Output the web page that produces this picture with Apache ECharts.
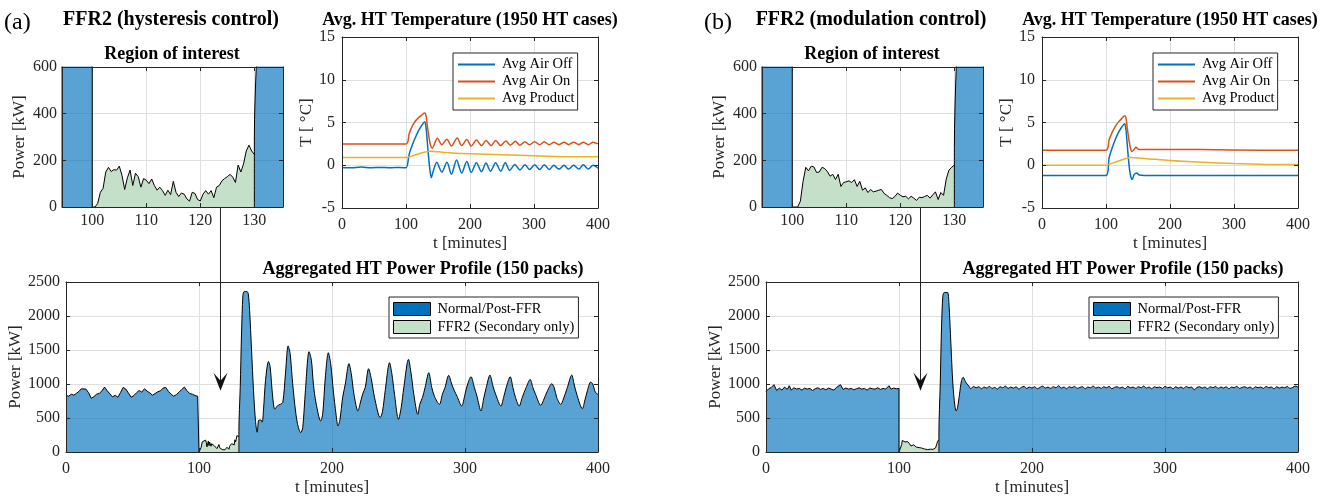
<!DOCTYPE html>
<html>
<head>
<meta charset="utf-8">
<script src="https://cdn.jsdelivr.net/npm/echarts@6/dist/echarts.min.js"></script>
<style>
  html, body { margin: 0; padding: 0; background: #fff; }
  #chart { width: 1326px; height: 499px; }
</style>
</head>
<body>
<div id="chart"></div>
<script>
// ---- data ----
// (a) hysteresis control
const normalA1 = [[0,833],[2,820],[4,850],[6,835],[8,865],[10,895],[11.5,930],[13,955],[15,925],[17,870],[19,790],[21,815],[23,850],[25,860],[27,900],[29,955],[31,900],[33,855],[35,810],[37,835],[39,805],[41,875],[43,950],[45,925],[47,865],[49,805],[51,830],[53,870],[55,905],[57,880],[59,930],[61,895],[63,870],[65,835],[67,860],[69,885],[71,900],[73,940],[75,950],[77,890],[79,850],[81,820],[83,845],[85,880],[87,920],[89,955],[91,900],[93,860],[95,850],[97,830],[99,820],[100,830],[100,0]];
const normalA2 = [[130,0],[130,300],[131,950],[132,1750],[133,2300],[134,2360],[136,2360],[137,2330],[138,2100],[139.5,1500],[141,900],[142.5,450],[143.75,290],[145,470],[146.5,470],[147.5,440],[148.5,620],[150,1050],[152.25,1330],[153.5,1250],[155,900],[157,630],[159,680],[161,700],[163,730],[165,1150],[167,1560],[168.5,1450],[170,1100],[172,700],[174,420],[176.5,285],[178,360],[180,900],[182.75,1475],[184.5,1350],[186,1000],[188,720],[191.5,456],[193,560],[195,1100],[197.25,1460],[199,1300],[201,900],[203,560],[204.5,382],[206,480],[208,800],[210,1000],[212.75,1300],[214.5,1150],[216.5,850],[219.5,603],[221,700],[223,850],[225,950],[227.5,1225],[229.5,1080],[232,800],[236.25,505],[238,600],[240,900],[243.25,1313],[245,1150],[247,850],[250,480],[252,650],[254,950],[257.5,1362],[259.5,1150],[261.5,850],[264.5,554],[266,700],[268,800],[270,950],[272.75,1166],[275,950],[277,820],[280.75,700],[283,850],[285,950],[287.75,1127],[290,1000],[292,900],[294,820],[297.5,676],[300,850],[302,1000],[304.5,1107],[307,950],[309,820],[312,603],[314,780],[316,950],[318.75,1132],[321,970],[323,850],[327,676],[329,800],[331,950],[334,1107],[336,950],[338,800],[340.75,676],[343,800],[346,950],[349,1068],[351,950],[353,850],[357,686],[359,760],[362,900],[365.25,1005],[367,950],[369,800],[372,700],[374,780],[377,950],[380.25,1132],[382,1000],[384,850],[388.25,637],[390,750],[392,900],[394.5,1029],[396,1000],[398,880],[400,848]];
const ffrT = [100,100.5,101,101.5,102,102.5,103,103.5,104,104.5,105,105.5,106,106.5,107,107.5,108,108.5,109,109.5,110,110.5,111,111.5,112,112.5,113,113.5,114,114.5,115,115.5,116,116.5,117,117.5,118,118.5,119,119.5,120,120.5,121,121.5,122,122.5,123,123.5,124,124.5,125,125.5,126,126.5,127,127.5,128,128.5,129,129.5,130];
const ffrA = [0,0,15,63,80,150,170,152,160,158,175,136,75,125,158,92,145,130,85,122,115,100,120,92,72,85,70,50,72,53,110,63,45,60,55,35,25,63,58,32,26,55,70,55,70,40,85,92,112,122,130,140,128,105,180,150,185,240,265,240,225];
const airOffA = [[0,-0.25],[15,-0.3],[30,-0.2],[45,-0.3],[60,-0.25],[75,-0.3],[90,-0.25],[100,-0.3],[105,1.3],[110,2.4],[115,3.3],[120,4.1],[125,4.7],[129,5.1],[131,4.6],[133,3.0],[135,1.2],[137,-0.3],[139.5,-1.45],[142.5,-0.7],[148,0.35],[156,-0.8],[164,0.35],[171,-1.05],[179,0.6],[187,-0.9],[195,0.45],[202,-0.85],[210,0.3],[218,-0.75],[225,0.25],[232,-0.7],[240,0.3],[248,-0.7],[255,0.3],[262,-0.6],[270,0.1],[278,-0.55],[286,0.05],[293,-0.5],[301,0.05],[309,-0.5],[316,0.05],[324,-0.5],[331,0],[339,-0.45],[347,0],[354,-0.45],[362,0],[370,-0.45],[377,0.05],[385,-0.45],[392,0],[400,-0.35]];
const airOnA = [[0,2.5],[100,2.5],[105,3.7],[110,4.6],[115,5.2],[120,5.6],[125,5.9],[129,6.1],[131,5.9],[133,4.8],[136,3.2],[138.5,2.3],[141,2.0],[149,3.15],[156,2.4],[164,3.05],[171,2.25],[180,3.2],[187,2.3],[195,3.0],[202,2.25],[210,2.95],[218,2.3],[225,2.9],[233,2.3],[240,2.9],[248,2.3],[256,2.85],[263,2.35],[271,2.8],[278,2.35],[286,2.75],[293,2.4],[301,2.75],[309,2.4],[316,2.75],[324,2.4],[331,2.7],[339,2.4],[347,2.7],[354,2.4],[362,2.7],[370,2.4],[377,2.7],[385,2.4],[392,2.7],[400,2.5]];
const productA = [[0,0.9],[100,0.9],[110,1.1],[120,1.35],[130,1.55],[138,1.65],[160,1.5],[200,1.35],[250,1.22],[300,1.1],[350,1.0],[400,0.98]];

// (b) modulation control
const normalB1 = [[0,890],[2,930],[4,950],[6,990],[8,905],[10,940],[12,910],[14,955],[16,920],[17.5,975],[19,910],[21,945],[23,925],[25,935],[27,910],[29,940],[31,925],[33,935],[35,905],[37,930],[39,945],[41,920],[43,935],[45,915],[47,940],[49,925],[51,910],[53,950],[54.5,930],[56,990],[58,920],[60,940],[62,925],[64,935],[66,915],[68,930],[70,945],[72,925],[74,935],[76,910],[78,940],[80,930],[82,925],[84,945],[86,920],[88,935],[90,925],[92.5,975],[94,925],[96,940],[98,930],[100,935],[100,0]];
const normalB2 = [[130,0],[130,250],[131,1000],[132,1850],[133,2300],[134,2345],[136.5,2345],[137.5,2200],[139,1600],[140.5,1000],[142,680],[143,603],[144,650],[145.5,850],[147,1050],[148.25,1100],[150,1030],[152.5,970],[154,930],[156,965],[158,945],[160,960],[162,930],[164,955],[166,940],[168,965],[170,935],[172,950],[174,925],[176,960],[178,945],[180,970],[182,935],[184,955],[186,940],[188,960],[190,925],[192,950],[194,965],[196,935],[198,955],[200,940],[202,960],[204,930],[206,950],[208,970],[210,940],[212,955],[214,935],[216,960],[218,945],[220,975],[222,940],[224,955],[226,930],[228,960],[230,945],[232,965],[234,935],[236,950],[238,960],[240,930],[242,955],[244,945],[246,970],[248,940],[250,955],[252,935],[254,960],[256,945],[258,965],[260,930],[262,950],[264,960],[266,940],[268,955],[270,930],[272,965],[274,945],[276,955],[278,935],[280,960],[282,945],[284,970],[286,940],[288,955],[290,930],[292,960],[294,945],[296,955],[298,935],[300,965],[302,945],[304,955],[306,930],[308,960],[310,940],[312,955],[314,935],[316,965],[318,945],[320,955],[322,915],[324,950],[326,960],[328,940],[330,955],[332,930],[334,960],[336,945],[338,965],[340,935],[342,955],[344,940],[346,960],[348,930],[350,955],[352,945],[354,965],[356,935],[358,950],[360,960],[362,940],[364,955],[366,930],[368,960],[370,945],[372,955],[374,935],[376,965],[378,945],[380,955],[382,930],[384,960],[386,940],[388,955],[390,945],[392,965],[394,935],[396,950],[398,970],[400,955]];
const ffrB = [0,0,0,25,110,170,155,175,172,148,150,170,165,152,132,140,118,140,88,105,108,112,105,117,88,110,72,82,62,75,65,68,72,75,58,50,40,36,45,60,50,44,46,35,46,38,28,42,40,45,50,38,52,65,32,62,50,120,158,170,180];
const airOffB = [[0,-1.2],[100,-1.2],[105,0.9],[110,2.1],[115,3.1],[120,3.9],[125,4.5],[129,4.85],[131,4.3],[133,2.6],[135,0.8],[137,-0.6],[139,-1.4],[141,-1.65],[144,-1.1],[148,-0.9],[152,-1.15],[160,-1.2],[250,-1.2],[400,-1.2]];
const airOnB = [[0,1.75],[100,1.75],[105,3.0],[110,3.9],[115,4.6],[120,5.1],[125,5.5],[129,5.8],[131,5.6],[133,4.5],[136,2.9],[138.5,1.9],[140.5,1.6],[143,1.75],[147,2.1],[151,1.85],[160,1.85],[250,1.85],[300,1.78],[400,1.75]];
const productB = [[0,0],[100,0],[110,0.25],[120,0.5],[130,0.75],[138,0.9],[160,0.8],[200,0.55],[250,0.35],[300,0.2],[350,0.1],[400,0.08]];

const roiTicks = [100, 110, 120, 130];
const tempNames = ['Avg Air Off', 'Avg Air On', 'Avg Product'];
const powerNames = ['Normal/Post-FFR', 'FFR2 (Secondary only)'];

// ---- styling ----
const FONT = '"Liberation Serif", "Times New Roman", serif';
const INK = '#262626';
const BLUE = '#0072BD', GREEN = '#c4e0c8', ORANGE = '#D95319', YELLOW = '#EDB120';

var theDom = document.getElementById('chart');
var myChart = echarts.init(theDom);

var grids = [], xAxes = [], yAxes = [];

// main axes carry labels + grid lines (under the areas), frame axes carry box + ticks (over them)
function addPanel(box, xs, ys) {
  grids.push({ left: box[0], top: box[1], width: box[2], height: box[3], containLabel: false });
  const g = grids.length - 1;
  const xi = xAxes.length, yi = yAxes.length;
  const range = (s) => ({ type: 'value', gridIndex: g, min: s.min, max: s.max, interval: s.interval });
  const nameStyle = { fontFamily: FONT, fontSize: 17, color: INK };
  const lab = (s) => ({ fontFamily: FONT, fontSize: 16, color: INK, margin: s.margin,
    customValues: s.ticks, formatter: (v) => '{t|' + v + '}',
    rich: { t: { fontFamily: FONT, fontSize: 16, color: INK } } });
  xAxes.push(Object.assign(range(xs), {
    position: 'bottom', z: 0,
    axisLine: { show: false, onZero: false }, axisTick: { show: false, customValues: xs.ticks },
    axisLabel: lab(xs),
    splitLine: { show: true, lineStyle: { color: '#dfdfdf', width: 1 } },
    name: xs.name, nameLocation: 'middle', nameGap: xs.nameGap, nameTextStyle: nameStyle
  }));
  yAxes.push(Object.assign(range(ys), {
    position: 'left', z: 0,
    axisLine: { show: false, onZero: false }, axisTick: { show: false },
    axisLabel: lab(ys),
    splitLine: { show: true, lineStyle: { color: '#dfdfdf', width: 1 } },
    name: ys.name, nameLocation: 'middle', nameGap: ys.nameGap, nameRotate: 90, nameTextStyle: nameStyle
  }));
  const frame = (s, pos) => Object.assign(range(s), {
    position: pos, z: 10,
    axisLine: { show: true, onZero: false, lineStyle: { color: INK, width: 1 } },
    axisTick: { show: true, inside: true, length: 4, lineStyle: { color: INK }, customValues: s.ticks },
    axisLabel: { show: false, customValues: s.ticks },
    splitLine: { show: false }
  });
  xAxes.push(frame(xs, 'bottom'), frame(xs, 'top'));
  yAxes.push(frame(ys, 'left'), frame(ys, 'right'));
  return { x: xi, y: yi };
}

function powerSeries(ax, n1, n2, ffrVals) {
  const blue = (data, smooth) => ({
    type: 'line', name: powerNames[0], xAxisIndex: ax.x, yAxisIndex: ax.y, data: data,
    symbol: 'none', showSymbol: false, smooth: smooth, color: BLUE,
    lineStyle: { color: '#000', width: 1 }, areaStyle: { color: BLUE, opacity: 0.65 }
  });
  return [
    blue(n1, false),
    blue(n2, 0.3),
    {
      type: 'line', name: powerNames[1], xAxisIndex: ax.x, yAxisIndex: ax.y,
      data: ffrT.map((t, i) => [t, ffrVals[i]]),
      symbol: 'none', showSymbol: false, color: GREEN,
      lineStyle: { color: '#000', width: 1 }, areaStyle: { color: GREEN, opacity: 1 }
    }
  ];
}

function tempSeries(ax, lines) {
  const cols = [BLUE, ORANGE, YELLOW];
  return lines.map((d, i) => ({
    type: 'line', name: tempNames[i], xAxisIndex: ax.x, yAxisIndex: ax.y, data: d,
    symbol: 'none', showSymbol: false, smooth: 0.3, color: cols[i],
    lineStyle: { color: cols[i], width: 1.5 }
  }));
}

const roiX = { min: 94.4, max: 135.3, ticks: roiTicks, margin: 6 };
const roiY = { min: 0, max: 600, interval: 200, margin: 5, name: 'Power [kW]', nameGap: 34 };
const tX = { min: 0, max: 400, interval: 100, margin: 9, name: 't [minutes]', nameGap: 27 };
const tY = { min: -5, max: 15, interval: 5, margin: 7, name: 'T [ \u00B0C]', nameGap: 27 };
const pX = { min: 0, max: 400, interval: 100, margin: 9, name: 't [minutes]', nameGap: 27 };
const pY = { min: 0, max: 2500, interval: 500, margin: 6, name: 'Power [kW]', nameGap: 42 };

var series = [];
const panels = [
  { dx: 0, n1: normalA1, n2: normalA2, ffr: ffrA, temps: [airOffA, airOnA, productA] },
  { dx: 700, n1: normalB1, n2: normalB2, ffr: ffrB, temps: [airOffB, airOnB, productB] }
];
var legends = [];
var roiAx = [], bigAx = [];
panels.forEach(function (p) {
  const a1 = addPanel([62 + p.dx, 67, 221, 140], roiX, roiY);
  const a2 = addPanel([342 + p.dx, 37, 256, 171], tX, tY);
  const a3 = addPanel([66 + p.dx, 282, 532, 170], pX, pY);
  roiAx.push(grids.length - 3); bigAx.push(grids.length - 1);
  series = series.concat(powerSeries(a1, p.n1, p.n2, p.ffr), tempSeries(a2, p.temps), powerSeries(a3, p.n1, p.n2, p.ffr));
  legends.push({
    left: 453 + p.dx, top: 53, orient: 'vertical', selectedMode: false,
    backgroundColor: '#fff', borderColor: INK, borderWidth: 1, borderRadius: 0,
    padding: [3, 3, 3, 5], itemGap: 0, itemWidth: 37, itemHeight: 2, icon: 'rect',
    itemStyle: { borderWidth: 0 },
    textStyle: { fontFamily: FONT, fontSize: 14.5, color: '#000', lineHeight: 17, padding: [0, 0, 0, 2] },
    data: tempNames
  });
  legends.push({
    left: 389 + p.dx, top: 297, orient: 'vertical', selectedMode: false,
    backgroundColor: '#fff', borderColor: INK, borderWidth: 1, borderRadius: 0,
    padding: [3, 4, 2, 4], itemGap: 0, itemWidth: 37, itemHeight: 13, icon: 'rect',
    textStyle: { fontFamily: FONT, fontSize: 14.5, color: '#000', lineHeight: 18, padding: [0, 0, 0, 2] },
    data: [
      { name: powerNames[0], itemStyle: { color: BLUE, borderColor: '#000', borderWidth: 1 } },
      { name: powerNames[1], itemStyle: { color: GREEN, borderColor: '#000', borderWidth: 1 } }
    ]
  });
});

option = {
  animation: false,
  backgroundColor: '#fff',
  textStyle: { fontFamily: FONT },
  grid: grids,
  xAxis: xAxes,
  yAxis: yAxes,
  legend: legends,
  series: series
};
myChart.setOption(option);

// titles, panel letters and the arrow
function txt(x, y, s, font, align) {
  return { type: 'text', x: x, y: y, z: 20,
    style: { text: s, font: font, fill: '#000', textAlign: align || 'center', textVerticalAlign: 'middle' } };
}
const bold18 = 'bold 18px "Liberation Serif"';
var g = [];
['(a)', '(b)'].forEach(function (lab, k) {
  const dx = k * 700;
  g.push(txt(4 + dx, 23, lab, '24px "Liberation Serif"', 'left'));
  g.push(txt(171 + dx, 20, k ? 'FFR2 (modulation control)' : 'FFR2 (hysteresis control)', 'bold 20px "Liberation Serif"'));
  g.push(txt(172 + dx, 54, 'Region of interest', bold18));
  g.push(txt(470 + dx, 20, 'Avg. HT Temperature (1950 HT cases)', bold18));
  g.push(txt(423 + dx, 269, 'Aggregated HT Power Profile (150 packs)', bold18));
  const top = myChart.convertToPixel({ gridIndex: roiAx[k] }, [123.6, 0]);
  const tip = myChart.convertToPixel({ gridIndex: bigAx[k] }, [115.8, 900]);
  const x = Math.round(top[0]) + 0.5;
  g.push({ type: 'line', z: 20, shape: { x1: x, y1: top[1], x2: x, y2: tip[1] - 9 },
    style: { stroke: INK, lineWidth: 1 } });
  g.push({ type: 'polygon', z: 20,
    shape: { points: [[x, tip[1]], [x - 7, tip[1] - 18], [x, tip[1] - 10], [x + 7, tip[1] - 18]] },
    style: { fill: '#111' } });
});
myChart.setOption({ graphic: g });

window.onresize = function () {
  myChart.resize();
};
</script>
</body>
</html>
